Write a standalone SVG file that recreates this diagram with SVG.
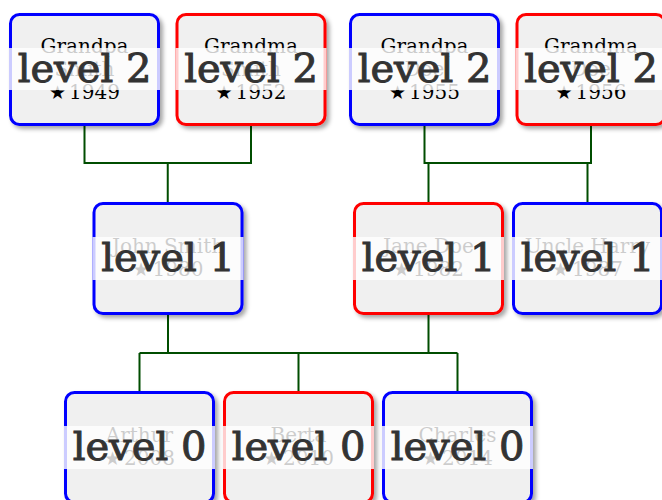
<svg xmlns="http://www.w3.org/2000/svg" width="662" height="500" viewBox="0 0 662 500">
<style>
.box{fill:#f0f0f0;stroke-width:3;filter:url(#sh)}
.m{stroke:#0000ff}
.f{stroke:#ff0000}
.t{font-family:"DejaVu Serif","Liberation Serif",serif;font-size:20px;fill:#000;text-anchor:middle}
.st{font-family:"DejaVu Sans",sans-serif;font-size:19px}
.band{fill:#fff;fill-opacity:0.8}
.lv{font-family:"DejaVu Serif","Liberation Serif",serif;font-size:40px;fill:#333;stroke:#333;stroke-width:1;text-anchor:middle}
.c{fill:none;stroke:#004d00;stroke-width:2}
</style>
<defs>
<filter id="sh" x="-10%" y="-10%" width="130%" height="130%">
<feDropShadow dx="3" dy="3" stdDeviation="2" flood-color="#000" flood-opacity="0.35"/>
</filter>
</defs>
<g id="connectors">
<path class="c" d="M84.5,126V163H251V126M167.75,163V203.5"/>
<path class="c" d="M424.5,126V163H591V126M428.5,163V203.5M587.5,163V203.5"/>
<path class="c" d="M168,313.5V353M428.5,313.5V353M139.5,353H457.5M139.5,353V392.5M298.5,353V392.5M457.5,353V392.5"/>
</g>
<g id="grandpa-smith">
<rect class="box m" x="10.5" y="14.5" width="148" height="110" rx="9"/>
<text class="t" x="84.5" y="53">Grandpa</text>
<text class="t" x="84.5" y="76">Smith</text>
<text class="t" x="84.5" y="99"><tspan class="st">★</tspan><tspan dx="3">1949</tspan></text>
<rect class="band" x="9" y="48" width="151" height="42"/>
<text class="lv" x="84.5" y="82">level 2</text>
</g>
<g id="grandma-smith">
<rect class="box f" x="177" y="14.5" width="148" height="110" rx="9"/>
<text class="t" x="251" y="53">Grandma</text>
<text class="t" x="251" y="76">Smith</text>
<text class="t" x="251" y="99"><tspan class="st">★</tspan><tspan dx="3">1952</tspan></text>
<rect class="band" x="175.5" y="48" width="151" height="42"/>
<text class="lv" x="251" y="82">level 2</text>
</g>
<g id="grandpa-doe">
<rect class="box m" x="350.5" y="14.5" width="148" height="110" rx="9"/>
<text class="t" x="424.5" y="53">Grandpa</text>
<text class="t" x="424.5" y="76">Doe</text>
<text class="t" x="424.5" y="99"><tspan class="st">★</tspan><tspan dx="3">1955</tspan></text>
<rect class="band" x="349" y="48" width="151" height="42"/>
<text class="lv" x="424.5" y="82">level 2</text>
</g>
<g id="grandma-doe">
<rect class="box f" x="517" y="14.5" width="148" height="110" rx="9"/>
<text class="t" x="591" y="53">Grandma</text>
<text class="t" x="591" y="76">Doe</text>
<text class="t" x="591" y="99"><tspan class="st">★</tspan><tspan dx="3">1956</tspan></text>
<rect class="band" x="515.5" y="48" width="151" height="42"/>
<text class="lv" x="591" y="82">level 2</text>
</g>
<g id="john-smith">
<rect class="box m" x="94" y="203.5" width="148" height="110" rx="9"/>
<text class="t" x="168" y="253">John Smith</text>
<text class="t" x="168" y="276"><tspan class="st">★</tspan><tspan dx="3">1980</tspan></text>
<rect class="band" x="92.5" y="237" width="151" height="43"/>
<text class="lv" x="168" y="271">level 1</text>
</g>
<g id="jane-doe">
<rect class="box f" x="354.5" y="203.5" width="148" height="110" rx="9"/>
<text class="t" x="428.5" y="253">Jane Doe</text>
<text class="t" x="428.5" y="276"><tspan class="st">★</tspan><tspan dx="3">1982</tspan></text>
<rect class="band" x="353" y="237" width="151" height="43"/>
<text class="lv" x="428.5" y="271">level 1</text>
</g>
<g id="uncle-harry">
<rect class="box m" x="513.5" y="203.5" width="148" height="110" rx="9"/>
<text class="t" x="587.5" y="253">Uncle Harry</text>
<text class="t" x="587.5" y="276"><tspan class="st">★</tspan><tspan dx="3">1987</tspan></text>
<rect class="band" x="512" y="237" width="151" height="43"/>
<text class="lv" x="587.5" y="271">level 1</text>
</g>
<g id="arthur">
<rect class="box m" x="65.5" y="392.5" width="148" height="110" rx="9"/>
<text class="t" x="139.5" y="442">Arthur</text>
<text class="t" x="139.5" y="465"><tspan class="st">★</tspan><tspan dx="3">2008</tspan></text>
<rect class="band" x="64" y="426" width="151" height="43"/>
<text class="lv" x="139.5" y="460">level 0</text>
</g>
<g id="berta">
<rect class="box f" x="224.5" y="392.5" width="148" height="110" rx="9"/>
<text class="t" x="298.5" y="442">Berta</text>
<text class="t" x="298.5" y="465"><tspan class="st">★</tspan><tspan dx="3">2010</tspan></text>
<rect class="band" x="223" y="426" width="151" height="43"/>
<text class="lv" x="298.5" y="460">level 0</text>
</g>
<g id="charles">
<rect class="box m" x="383.5" y="392.5" width="148" height="110" rx="9"/>
<text class="t" x="457.5" y="442">Charles</text>
<text class="t" x="457.5" y="465"><tspan class="st">★</tspan><tspan dx="3">2014</tspan></text>
<rect class="band" x="382" y="426" width="151" height="43"/>
<text class="lv" x="457.5" y="460">level 0</text>
</g>
</svg>
